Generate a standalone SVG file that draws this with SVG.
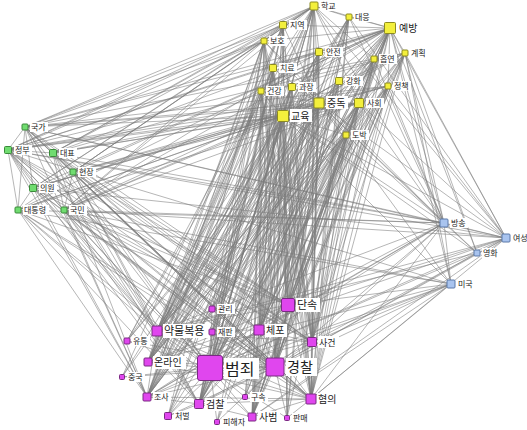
<svg xmlns="http://www.w3.org/2000/svg" width="527" height="430" viewBox="0 0 527 430">
<style>
.e{fill:none;stroke:#7c7c7c;stroke-width:0.7;stroke-opacity:0.8}
.y{fill:#f3ef3c;stroke:#8c8a20;stroke-width:1}
.g{fill:#70dc70;stroke:#3a8a3a;stroke-width:1}
.b{fill:#a9c4ef;stroke:#5a78a8;stroke-width:1}
.m{fill:#e046ee;stroke:#7a2a82;stroke-width:1}
.lb{fill:#ffffff}
.t{font-family:"Noto Sans CJK KR","Noto Sans",sans-serif;fill:#222}
</style>
<rect width="527" height="430" fill="#ffffff"/>
<g id="edges">
<path class="e" d="M314 6L288 305M314 6L157 331M314 6L259 330M314 6L312 342M314 6L148 362M314 6L210 368M314 6L275 367M314 6L147 397M314 6L199 404M314 6L311 399M314 6L252 417M314 6L212 309M314 6L127 341M314 6L168 416"/>
<path class="e" d="M349 17L288 305M349 17L157 331M349 17L259 330M349 17L312 342M349 17L148 362M349 17L210 368M349 17L275 367M349 17L147 397M349 17L199 404M349 17L311 399M349 17L252 417"/>
<path class="e" d="M283 25L288 305M283 25L157 331M283 25L259 330M283 25L312 342M283 25L148 362M283 25L210 368M283 25L275 367M283 25L147 397M283 25L199 404M283 25L311 399M283 25L252 417M283 25L212 332M283 25L122 377M283 25L287 418"/>
<path class="e" d="M390 28L288 305M390 28L157 331M390 28L259 330M390 28L312 342M390 28L148 362M390 28L210 368M390 28L275 367M390 28L147 397M390 28L199 404M390 28L311 399M390 28L252 417M390 28L212 309M390 28L127 341M390 28L245 397M390 28L217 422"/>
<path class="e" d="M264 41L288 305M264 41L157 331M264 41L259 330M264 41L312 342M264 41L148 362M264 41L210 368M264 41L275 367M264 41L147 397M264 41L199 404M264 41L311 399M264 41L252 417M264 41L212 309M264 41L168 416"/>
<path class="e" d="M319 52L288 305M319 52L157 331M319 52L259 330M319 52L312 342M319 52L148 362M319 52L210 368M319 52L275 367M319 52L147 397M319 52L199 404M319 52L311 399M319 52L252 417M319 52L212 332M319 52L287 418"/>
<path class="e" d="M405 53L288 305M405 53L157 331M405 53L259 330M405 53L312 342M405 53L148 362M405 53L210 368M405 53L275 367M405 53L147 397M405 53L199 404M405 53L311 399M405 53L252 417"/>
<path class="e" d="M374 59L288 305M374 59L157 331M374 59L259 330M374 59L312 342M374 59L148 362M374 59L210 368M374 59L275 367M374 59L147 397M374 59L199 404M374 59L311 399M374 59L252 417"/>
<path class="e" d="M273 68L288 305M273 68L157 331M273 68L259 330M273 68L312 342M273 68L148 362M273 68L210 368M273 68L275 367M273 68L147 397M273 68L199 404M273 68L311 399M273 68L252 417M273 68L127 341M273 68L245 397"/>
<path class="e" d="M339 81L288 305M339 81L157 331M339 81L259 330M339 81L312 342M339 81L148 362M339 81L210 368M339 81L275 367M339 81L147 397M339 81L199 404M339 81L311 399M339 81L252 417"/>
<path class="e" d="M261 91L288 305M261 91L157 331M261 91L259 330M261 91L312 342M261 91L148 362M261 91L210 368M261 91L275 367M261 91L147 397M261 91L199 404M261 91L311 399M261 91L252 417"/>
<path class="e" d="M292 87L288 305M292 87L157 331M292 87L259 330M292 87L312 342M292 87L148 362M292 87L210 368M292 87L275 367M292 87L147 397M292 87L199 404M292 87L311 399M292 87L252 417"/>
<path class="e" d="M388 86L288 305M388 86L157 331M388 86L259 330M388 86L312 342M388 86L148 362M388 86L210 368M388 86L275 367M388 86L147 397M388 86L199 404M388 86L311 399M388 86L252 417"/>
<path class="e" d="M319 103L288 305M319 103L157 331M319 103L259 330M319 103L312 342M319 103L148 362M319 103L210 368M319 103L275 367M319 103L147 397M319 103L199 404M319 103L311 399M319 103L252 417M319 103L212 309M319 103L212 332M319 103L127 341M319 103L245 397M319 103L287 418M319 103L168 416M319 103L217 422M319 103L122 377"/>
<path class="e" d="M359 103L288 305M359 103L157 331M359 103L259 330M359 103L312 342M359 103L148 362M359 103L210 368M359 103L275 367M359 103L147 397M359 103L199 404M359 103L311 399M359 103L252 417M359 103L212 309M359 103L245 397M359 103L287 418"/>
<path class="e" d="M283 116L288 305M283 116L157 331M283 116L259 330M283 116L312 342M283 116L148 362M283 116L210 368M283 116L275 367M283 116L147 397M283 116L199 404M283 116L311 399M283 116L252 417M283 116L212 309M283 116L212 332M283 116L127 341M283 116L245 397M283 116L287 418M283 116L168 416M283 116L217 422M283 116L122 377"/>
<path class="e" d="M346 135L288 305M346 135L157 331M346 135L259 330M346 135L312 342M346 135L148 362M346 135L210 368M346 135L275 367M346 135L147 397M346 135L199 404M346 135L311 399M346 135L252 417M346 135L212 332M346 135L168 416"/>
<path class="e" d="M210 368L212 309M210 368L288 305M210 368L157 331M210 368L212 332M210 368L259 330M210 368L127 341M210 368L312 342M210 368L148 362M210 368L275 367M210 368L122 377M210 368L147 397M210 368L199 404M210 368L245 397M210 368L311 399M210 368L168 416M210 368L252 417M210 368L287 418M210 368L217 422"/>
<path class="e" d="M275 367L212 309M275 367L288 305M275 367L157 331M275 367L212 332M275 367L259 330M275 367L127 341M275 367L312 342M275 367L148 362M275 367L122 377M275 367L147 397M275 367L199 404M275 367L245 397M275 367L311 399M275 367L168 416M275 367L252 417M275 367L287 418M275 367L217 422"/>
<path class="e" d="M288 305L157 331M288 305L259 330M288 305L312 342M288 305L148 362M288 305L147 397M288 305L199 404M288 305L311 399M288 305L252 417M288 305L287 418M157 331L259 330M157 331L312 342M157 331L148 362M157 331L147 397M157 331L199 404M157 331L311 399M157 331L252 417M311 399L259 330M311 399L312 342M311 399L148 362M311 399L147 397M311 399L199 404M311 399L252 417M311 399L287 418M259 330L312 342M259 330L147 397M259 330L199 404M259 330L252 417M259 330L168 416M199 404L147 397M199 404L252 417M199 404L168 416M199 404L312 342"/>
<path class="e" d="M390 28L314 6M390 28L349 17M390 28L283 25M390 28L264 41M390 28L319 52M390 28L405 53M390 28L374 59M390 28L273 68M390 28L339 81M390 28L261 91M390 28L292 87M390 28L388 86M390 28L319 103M390 28L359 103M390 28L283 116M390 28L346 135"/>
<path class="e" d="M283 116L314 6M283 116L349 17M283 116L283 25M283 116L264 41M283 116L319 52M283 116L405 53M283 116L374 59M283 116L273 68M283 116L339 81M283 116L261 91M283 116L292 87M283 116L388 86M283 116L319 103M283 116L359 103M283 116L346 135"/>
<path class="e" d="M319 103L314 6M319 103L349 17M319 103L283 25M319 103L264 41M319 103L319 52M319 103L405 53M319 103L374 59M319 103L273 68M319 103L339 81M319 103L261 91M319 103L292 87M319 103L388 86M319 103L359 103M319 103L346 135M314 6L349 17M314 6L283 25M314 6L264 41M314 6L319 52M314 6L374 59M314 6L273 68M314 6L359 103"/>
<path class="e" d="M8 150L25 127M8 150L53 153M8 150L33 188M8 150L18 210M25 127L53 153M25 127L18 210M33 188L18 210M25 127L33 188M53 153L64 210M8 150L64 210M73 172L64 210"/>
<path class="e" d="M25 127L314 6M25 127L283 25M25 127L390 28M25 127L264 41M25 127L319 52M25 127L283 116M25 127L319 103M25 127L359 103M25 127L388 86M25 127L405 53M8 150L314 6M8 150L283 25M8 150L390 28M8 150L264 41M8 150L319 52M8 150L283 116M8 150L319 103M8 150L359 103M8 150L388 86M8 150L405 53M53 153L314 6M53 153L283 25M53 153L390 28M53 153L264 41M53 153L283 116M53 153L319 103M53 153L359 103M53 153L405 53"/>
<path class="e" d="M73 172L314 6M73 172L390 28M73 172L264 41M73 172L283 116M73 172L319 103M73 172L359 103M33 188L314 6M33 188L283 25M33 188L390 28M33 188L283 116M33 188L319 103M33 188L388 86M18 210L314 6M18 210L390 28M18 210L283 116M18 210L319 103M18 210L359 103M64 210L314 6M64 210L283 25M64 210L390 28M64 210L319 52M64 210L283 116M64 210L319 103M64 210L359 103M64 210L405 53"/>
<path class="e" d="M25 127L210 368M25 127L275 367M25 127L288 305M25 127L312 342M25 127L157 331M25 127L147 397M25 127L199 404M25 127L311 399M25 127L259 330M8 150L210 368M8 150L275 367M8 150L288 305M8 150L312 342M8 150L157 331M8 150L147 397M8 150L199 404M8 150L311 399M8 150L259 330M53 153L210 368M53 153L275 367M53 153L288 305M53 153L312 342M53 153L157 331M53 153L147 397M53 153L311 399M53 153L259 330"/>
<path class="e" d="M73 172L210 368M73 172L275 367M73 172L288 305M73 172L312 342M73 172L157 331M73 172L199 404M73 172L311 399M33 188L210 368M33 188L275 367M33 188L288 305M33 188L312 342M33 188L157 331M33 188L147 397M33 188L311 399M18 210L210 368M18 210L275 367M18 210L288 305M18 210L157 331M18 210L147 397M18 210L199 404M18 210L311 399M64 210L210 368M64 210L275 367M64 210L288 305M64 210L312 342M64 210L157 331M64 210L147 397M64 210L199 404M64 210L311 399M64 210L259 330"/>
<path class="e" d="M8 150L444 223M8 150L506 238M8 150L451 284M25 127L444 223M25 127L506 238M18 210L444 223M18 210L451 284M64 210L444 223M64 210L506 238M64 210L451 284M53 153L444 223M33 188L506 238"/>
<path class="e" d="M444 223L314 6M444 223L349 17M444 223L390 28M444 223L405 53M444 223L374 59M444 223L319 103M444 223L359 103M444 223L283 116M444 223L346 135M444 223L388 86M444 223L264 41M444 223L210 368M444 223L275 367M444 223L288 305M444 223L312 342M444 223L157 331M444 223L311 399M444 223L147 397M444 223L259 330"/>
<path class="e" d="M506 238L314 6M506 238L390 28M506 238L405 53M506 238L349 17M506 238L319 103M506 238L283 116M506 238L359 103M506 238L388 86M506 238L210 368M506 238L275 367M506 238L288 305M506 238L312 342M506 238L157 331M506 238L311 399M506 238L252 417M506 238L148 362M506 238L444 223"/>
<path class="e" d="M477 253L390 28M477 253L283 116M477 253L319 103M477 253L210 368M477 253L275 367M477 253L444 223M477 253L157 331M477 253L405 53M451 284L390 28M451 284L405 53M451 284L319 103M451 284L283 116M451 284L210 368M451 284L275 367M451 284L288 305M451 284L311 399M451 284L312 342M451 284L148 362M451 284L147 397M451 284L444 223M451 284L252 417"/>
</g>
<g id="n-hakgyo"><rect class="y" x="310" y="2" width="8" height="8" rx="1"/><rect class="lb" x="320" y="1" width="18" height="10"/><text class="t" x="321" y="9" font-size="8">학교</text></g>
<g id="n-daeeung"><rect class="y" x="346" y="14" width="6" height="6" rx="1"/><rect class="lb" x="354" y="12" width="18" height="10"/><text class="t" x="355" y="20" font-size="8">대응</text></g>
<g id="n-jiyeok"><rect class="y" x="279.5" y="21.5" width="7" height="7" rx="1"/><rect class="lb" x="289" y="20" width="18" height="10"/><text class="t" x="290" y="28" font-size="8">지역</text></g>
<g id="n-yebang"><rect class="y" x="384.5" y="22.5" width="11" height="11" rx="1"/><rect class="lb" x="398" y="21" width="22" height="13"/><text class="t" x="399" y="32" font-size="10">예방</text></g>
<g id="n-boho"><rect class="y" x="261" y="38" width="6" height="6" rx="1"/><rect class="lb" x="269" y="36" width="18" height="10"/><text class="t" x="270" y="44" font-size="8">보호</text></g>
<g id="n-anjeon"><rect class="y" x="315.5" y="48.5" width="7" height="7" rx="1"/><rect class="lb" x="325" y="47" width="18" height="10"/><text class="t" x="326" y="55" font-size="8">안전</text></g>
<g id="n-gyehoek"><rect class="y" x="402" y="50" width="6" height="6" rx="1"/><rect class="lb" x="410" y="48" width="18" height="10"/><text class="t" x="411" y="56" font-size="8">계획</text></g>
<g id="n-heupyeon"><rect class="y" x="371" y="56" width="6" height="6" rx="1"/><rect class="lb" x="379" y="54" width="18" height="10"/><text class="t" x="380" y="62" font-size="8">흡연</text></g>
<g id="n-chiryo"><rect class="y" x="269.5" y="64.5" width="7" height="7" rx="1"/><rect class="lb" x="279" y="63" width="18" height="10"/><text class="t" x="280" y="71" font-size="8">치료</text></g>
<g id="n-ganghwa"><rect class="y" x="335.5" y="77.5" width="7" height="7" rx="1"/><rect class="lb" x="345" y="76" width="18" height="10"/><text class="t" x="346" y="84" font-size="8">강화</text></g>
<g id="n-geongang"><rect class="y" x="258" y="88" width="6" height="6" rx="1"/><rect class="lb" x="266" y="86" width="18" height="10"/><text class="t" x="267" y="94" font-size="8">건강</text></g>
<g id="n-gwajang"><rect class="y" x="288.5" y="83.5" width="7" height="7" rx="1"/><rect class="lb" x="298" y="82" width="18" height="10"/><text class="t" x="299" y="90" font-size="8">과장</text></g>
<g id="n-jeongchaek"><rect class="y" x="385" y="83" width="6" height="6" rx="1"/><rect class="lb" x="393" y="81" width="18" height="10"/><text class="t" x="394" y="89" font-size="8">정책</text></g>
<g id="n-jungdok"><rect class="y" x="314" y="98" width="10" height="10" rx="1"/><rect class="lb" x="326" y="96" width="22" height="13"/><text class="t" x="327" y="107" font-size="10">중독</text></g>
<g id="n-sahoe"><rect class="y" x="354.5" y="98.5" width="9" height="9" rx="1"/><rect class="lb" x="366" y="98" width="18" height="10"/><text class="t" x="367" y="106" font-size="8">사회</text></g>
<g id="n-gyoyuk"><rect class="y" x="277.5" y="110.5" width="11" height="11" rx="1"/><rect class="lb" x="290" y="109" width="22" height="13"/><text class="t" x="291" y="120" font-size="10">교육</text></g>
<g id="n-dobak"><rect class="y" x="343" y="132" width="6" height="6" rx="1"/><rect class="lb" x="351" y="130" width="18" height="10"/><text class="t" x="352" y="138" font-size="8">도박</text></g>
<g id="n-gukga"><rect class="g" x="22" y="124" width="6" height="6" rx="1"/><rect class="lb" x="30" y="122" width="18" height="10"/><text class="t" x="31" y="130" font-size="8">국가</text></g>
<g id="n-jeongbu"><rect class="g" x="4.5" y="146.5" width="7" height="7" rx="1"/><rect class="lb" x="14" y="145" width="18" height="10"/><text class="t" x="15" y="153" font-size="8">정부</text></g>
<g id="n-daepyo"><rect class="g" x="49.5" y="149.5" width="7" height="7" rx="1"/><rect class="lb" x="59" y="148" width="18" height="10"/><text class="t" x="60" y="156" font-size="8">대표</text></g>
<g id="n-hyeonjang"><rect class="g" x="70" y="169" width="6" height="6" rx="1"/><rect class="lb" x="78" y="167" width="18" height="10"/><text class="t" x="79" y="175" font-size="8">현장</text></g>
<g id="n-uiwon"><rect class="g" x="29.5" y="184.5" width="7" height="7" rx="1"/><rect class="lb" x="39" y="183" width="18" height="10"/><text class="t" x="40" y="191" font-size="8">의원</text></g>
<g id="n-daetongryeong"><rect class="g" x="15" y="207" width="6" height="6" rx="1"/><rect class="lb" x="23" y="205" width="26" height="10"/><text class="t" x="24" y="213" font-size="8">대통령</text></g>
<g id="n-gukmin"><rect class="g" x="61" y="207" width="6" height="6" rx="1"/><rect class="lb" x="69" y="205" width="18" height="10"/><text class="t" x="70" y="213" font-size="8">국민</text></g>
<g id="n-bangsong"><rect class="b" x="440" y="219" width="8" height="8" rx="1"/><rect class="lb" x="450" y="218" width="18" height="10"/><text class="t" x="451" y="226" font-size="8">방송</text></g>
<g id="n-yeoseong"><rect class="b" x="502" y="234" width="8" height="8" rx="1"/><rect class="lb" x="512" y="233" width="17" height="10"/><text class="t" x="513" y="241" font-size="8">여성</text></g>
<g id="n-yeonghwa"><rect class="b" x="474" y="250" width="6" height="6" rx="1"/><rect class="lb" x="482" y="248" width="18" height="10"/><text class="t" x="483" y="256" font-size="8">영화</text></g>
<g id="n-miguk"><rect class="b" x="447" y="280" width="8" height="8" rx="1"/><rect class="lb" x="457" y="279" width="18" height="10"/><text class="t" x="458" y="287" font-size="8">미국</text></g>
<g id="n-gwanri"><rect class="m" x="209" y="306" width="6" height="6" rx="1"/><rect class="lb" x="217" y="304" width="18" height="10"/><text class="t" x="218" y="312" font-size="8">관리</text></g>
<g id="n-dansok"><rect class="m" x="281.5" y="298.5" width="13" height="13" rx="1.5"/><rect class="lb" x="296" y="298" width="24" height="14"/><text class="t" x="297" y="309" font-size="11">단속</text></g>
<g id="n-yakmul"><rect class="m" x="152" y="326" width="10" height="10" rx="1"/><rect class="lb" x="163" y="324" width="47" height="14"/><text class="t" x="164" y="335" font-size="11">약물복용</text></g>
<g id="n-jaepan"><rect class="m" x="209" y="329" width="6" height="6" rx="1"/><rect class="lb" x="217" y="327" width="18" height="10"/><text class="t" x="218" y="335" font-size="8">재판</text></g>
<g id="n-chepo"><rect class="m" x="254" y="325" width="10" height="10" rx="1"/><rect class="lb" x="265" y="324" width="22" height="13"/><text class="t" x="266" y="334" font-size="10">체포</text></g>
<g id="n-yutong"><rect class="m" x="124" y="338" width="6" height="6" rx="1"/><rect class="lb" x="132" y="336" width="18" height="10"/><text class="t" x="133" y="344" font-size="8">유통</text></g>
<g id="n-sageon"><rect class="m" x="307.5" y="337.5" width="9" height="9" rx="1"/><rect class="lb" x="318" y="336" width="21" height="12"/><text class="t" x="319" y="346" font-size="9">사건</text></g>
<g id="n-online"><rect class="m" x="144" y="358" width="8" height="8" rx="1"/><rect class="lb" x="153" y="356" width="33" height="13"/><text class="t" x="154" y="366" font-size="10">온라인</text></g>
<g id="n-beomjoe"><rect class="m" x="197.5" y="355.5" width="25" height="25" rx="2.5"/><rect class="lb" x="224" y="358" width="35" height="21"/><text class="t" x="225" y="375" font-size="16">범죄</text></g>
<g id="n-gyeongchal"><rect class="m" x="266" y="358" width="18" height="18" rx="2"/><rect class="lb" x="286" y="358" width="31" height="18"/><text class="t" x="287" y="372" font-size="14">경찰</text></g>
<g id="n-jungguk"><rect class="m" x="119.5" y="374.5" width="5" height="5" rx="1"/><rect class="lb" x="127" y="372" width="18" height="10"/><text class="t" x="128" y="380" font-size="8">중국</text></g>
<g id="n-josa"><rect class="m" x="143" y="393" width="8" height="8" rx="1"/><rect class="lb" x="153" y="392" width="18" height="10"/><text class="t" x="154" y="400" font-size="8">조사</text></g>
<g id="n-geomchal"><rect class="m" x="194.5" y="399.5" width="9" height="9" rx="1"/><rect class="lb" x="205" y="398" width="22" height="13"/><text class="t" x="206" y="408" font-size="10">검찰</text></g>
<g id="n-gusok"><rect class="m" x="242.5" y="394.5" width="5" height="5" rx="1"/><rect class="lb" x="250" y="392" width="18" height="10"/><text class="t" x="251" y="400" font-size="8">구속</text></g>
<g id="n-hyeomui"><rect class="m" x="306" y="394" width="10" height="10" rx="1"/><rect class="lb" x="317" y="393" width="22" height="13"/><text class="t" x="318" y="403" font-size="10">혐의</text></g>
<g id="n-cheobeol"><rect class="m" x="164.5" y="412.5" width="7" height="7" rx="1"/><rect class="lb" x="174" y="411" width="18" height="10"/><text class="t" x="175" y="419" font-size="8">처벌</text></g>
<g id="n-sabeom"><rect class="m" x="248" y="413" width="8" height="8" rx="1"/><rect class="lb" x="258" y="411" width="22" height="13"/><text class="t" x="259" y="421" font-size="10">사범</text></g>
<g id="n-panmae"><rect class="m" x="284.5" y="415.5" width="5" height="5" rx="1"/><rect class="lb" x="292" y="413" width="18" height="10"/><text class="t" x="293" y="421" font-size="8">판매</text></g>
<g id="n-pihaeja"><rect class="m" x="214.5" y="419.5" width="5" height="5" rx="1"/><rect class="lb" x="222" y="417" width="26" height="10"/><text class="t" x="223" y="425" font-size="8">피해자</text></g>
</svg>
